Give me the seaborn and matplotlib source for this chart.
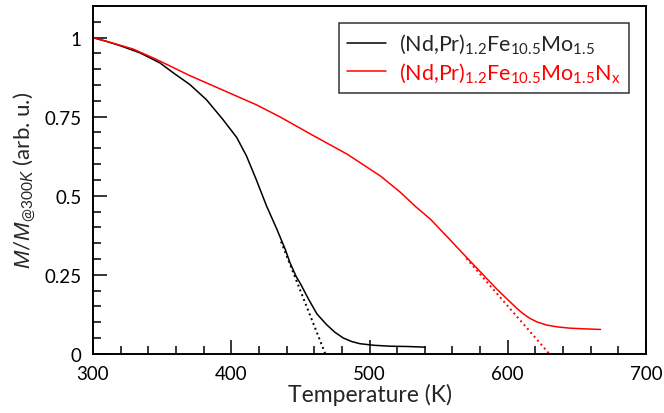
"""
M(T)/M(300 K) для (Nd,Pr)1.2Fe10.5Mo1.5 и его нитрида
"""

import matplotlib
matplotlib.use('Agg')
import matplotlib.pyplot as plt
from matplotlib.ticker import MultipleLocator, FuncFormatter
import pandas as pd
import seaborn as sns

# исходный сплав (чёрная кривая)
T_alloy = [300, 310, 320, 334, 348.5, 358, 370, 382, 394, 404, 411, 418, 425.5,
           433, 439, 442.5, 447, 450, 456, 462, 469, 475, 481, 487, 493, 503,
           515, 528, 540]
M_alloy = [1.0, 0.988, 0.974, 0.952, 0.920, 0.889, 0.852, 0.804, 0.741, 0.684,
           0.626, 0.552, 0.468, 0.394, 0.331, 0.288, 0.244, 0.222, 0.172, 0.126,
           0.092, 0.068, 0.050, 0.039, 0.032, 0.027, 0.024, 0.023, 0.021]

# нитрид (красная кривая)
T_nitride = [300, 315, 329, 346, 370, 394, 406, 418, 435, 459, 484, 508, 522, 534,
             544, 556, 568, 580, 592, 600, 606.5, 611, 616, 621, 628, 636, 645,
             655, 667]
M_nitride = [1.0, 0.982, 0.964, 0.931, 0.880, 0.834, 0.811, 0.788, 0.750, 0.691,
             0.631, 0.562, 0.512, 0.463, 0.426, 0.371, 0.315, 0.260, 0.205, 0.171,
             0.144, 0.127, 0.112, 0.101, 0.091, 0.085, 0.081, 0.079, 0.077]

# касательные для оценки Tc (пунктир)
T_tan_alloy = [436, 468]
M_tan_alloy = [0.355, 0.0]
T_tan_nitride = [570, 630]
M_tan_nitride = [0.302, 0.0]

LABEL_ALLOY = r'(Nd,Pr)$_{1.2}$Fe$_{10.5}$Mo$_{1.5}$'
LABEL_NITRIDE = r'(Nd,Pr)$_{1.2}$Fe$_{10.5}$Mo$_{1.5}$N$_{\mathrm{x}}$'

sns.set_style('white')
plt.rcParams['font.family'] = ['Lato', 'DejaVu Sans']
plt.rcParams['mathtext.fontset'] = 'custom'
plt.rcParams['mathtext.rm'] = 'Lato'
plt.rcParams['mathtext.it'] = 'Liberation Sans:italic'
plt.rcParams['mathtext.bf'] = 'Lato:weight=bold'

df_alloy = pd.DataFrame({'T': T_alloy, 'M': M_alloy})
df_nitride = pd.DataFrame({'T': T_nitride, 'M': M_nitride})

fig, ax = plt.subplots(figsize=(6.64, 4.14), dpi=100)
fig.subplots_adjust(left=0.140, right=0.973, top=0.983, bottom=0.143)

sns.lineplot(data=df_alloy, x='T', y='M', color='black', lw=1.1,
             label=LABEL_ALLOY, ax=ax, sort=False)
sns.lineplot(data=df_nitride, x='T', y='M', color='#ff0000', lw=1.1,
             label=LABEL_NITRIDE, ax=ax, sort=False)
ax.plot(T_tan_alloy, M_tan_alloy, ls=':', color='black', lw=1.4)
ax.plot(T_tan_nitride, M_tan_nitride, ls=':', color='#ff0000', lw=1.4)

ax.set_xlim(300, 700)
ax.set_ylim(0, 1.1)
ax.xaxis.set_major_locator(MultipleLocator(100))
ax.xaxis.set_minor_locator(MultipleLocator(20))
ax.yaxis.set_major_locator(MultipleLocator(0.25))
ax.yaxis.set_minor_locator(MultipleLocator(0.05))
ax.yaxis.set_major_formatter(FuncFormatter(lambda v, _: f'{v:g}'))

ax.tick_params(which='both', direction='in', bottom=True, left=True,
               top=False, right=False, width=1.1, colors='black')
ax.tick_params(which='major', length=10, pad=8, labelsize=13.5)
ax.tick_params(which='minor', length=5.5)
for s in ax.spines.values():
    s.set_linewidth(1.4)
    s.set_color('black')

ax.set_xlabel('Temperature (K)', fontsize=16.5, labelpad=1)
ax.set_ylabel(r'$M$/$M_{@300K}$ (arb. u.)', fontsize=16, labelpad=5)

leg = ax.legend(loc='upper right', fontsize=15.5, frameon=True, fancybox=False,
                edgecolor='black', handlelength=1.8, handletextpad=0.6,
                labelspacing=0.2, borderpad=0.4, borderaxespad=0.8)
leg.get_frame().set_linewidth(1.1)
leg.get_texts()[1].set_color('#ff0000')

plt.savefig('out.png', dpi=100)
